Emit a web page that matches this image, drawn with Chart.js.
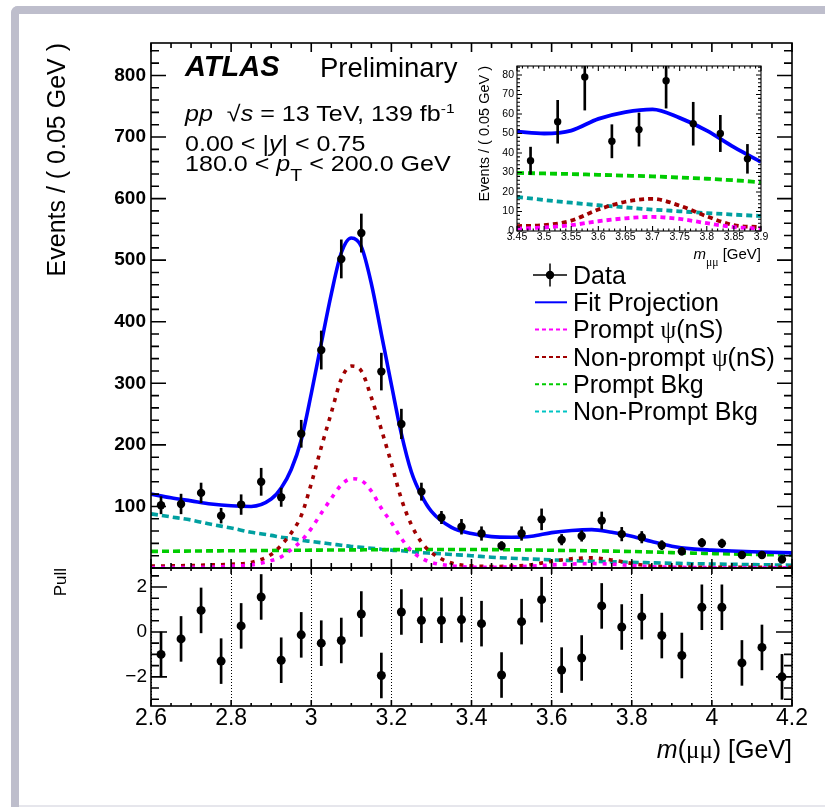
<!DOCTYPE html>
<html><head><meta charset="utf-8">
<script src="https://cdn.jsdelivr.net/npm/chart.js@4.4.0/dist/chart.umd.min.js"></script>
<style>
html,body{margin:0;padding:0;background:#fff;}
#page{position:relative;width:825px;height:807px;overflow:hidden;background:#fff;font-family:"Liberation Sans",Arial,Helvetica,sans-serif;}
#frame{position:absolute;left:11px;top:6px;width:830px;height:820px;border-left:8px solid #bebecc;border-top:8px solid #bebecc;border-top-left-radius:7px;box-sizing:border-box;}
#bottomline{position:absolute;left:19px;top:805px;width:806px;height:2px;background:#e6e6ec;}
canvas{position:absolute;left:0;top:0;}
svg{position:absolute;left:0;top:0;}
.t{position:absolute;white-space:nowrap;color:#000;line-height:1;}
.w{transform:scaleX(1.14);transform-origin:0 50%;}
.g{font-family:"Liberation Serif","DejaVu Serif",serif;}
sup{font-size:0.62em;vertical-align:0.62em;line-height:0;}
sub{font-size:0.78em;vertical-align:-0.6em;line-height:0;}
</style></head>
<body><div id="page">
<div id="frame"></div><div id="bottomline"></div>
<canvas id="main" width="825" height="807"></canvas>
<canvas id="pull" width="825" height="807"></canvas>
<canvas id="inset" width="825" height="807"></canvas>
<svg width="825" height="807" id="legsvg">
  <line x1="533" y1="275" x2="567" y2="275" stroke="#000" stroke-width="1.5"/>
  <line x1="550" y1="263.5" x2="550" y2="286.5" stroke="#000" stroke-width="1.5"/>
  <circle cx="550" cy="275" r="4.2" fill="#000"/>
  <line x1="535" y1="302.3" x2="567" y2="302.3" stroke="#0000ff" stroke-width="2"/>
  <line x1="535" y1="329.6" x2="567" y2="329.6" stroke="#ff00ff" stroke-width="2" stroke-dasharray="4 3"/>
  <line x1="535" y1="356.9" x2="567" y2="356.9" stroke="#a00000" stroke-width="2" stroke-dasharray="4 3"/>
  <line x1="535" y1="384.2" x2="567" y2="384.2" stroke="#00cc00" stroke-width="2" stroke-dasharray="4 3"/>
  <line x1="535" y1="411.5" x2="567" y2="411.5" stroke="#00c4c4" stroke-width="2" stroke-dasharray="4 3"/>
</svg>
<div class="t" style="left:185px;top:52px;font-size:29px;font-weight:bold;font-style:italic;">ATLAS</div>
<div class="t" style="left:320px;top:54px;font-size:27.5px;">Preliminary</div>
<div class="t w" style="left:185px;top:103px;font-size:22px;"><i>pp</i>&nbsp; √<i>s</i> = 13 TeV, 139 fb<sup>-1</sup></div>
<div class="t w" style="left:185px;top:133px;font-size:22px;">0.00 &lt; |<i>y</i>| &lt; 0.75</div>
<div class="t w" style="left:185px;top:153px;font-size:22px;">180.0 &lt; <i>p</i><sub>T</sub> &lt; 200.0 GeV</div>
<div class="t" style="left:573px;top:263px;font-size:25px;">Data</div>
<div class="t" style="left:573px;top:290px;font-size:25px;">Fit Projection</div>
<div class="t" style="left:573px;top:317px;font-size:25px;">Prompt <span class="g">ψ</span>(nS)</div>
<div class="t" style="left:573px;top:345px;font-size:25px;">Non-prompt <span class="g">ψ</span>(nS)</div>
<div class="t" style="left:573px;top:372px;font-size:25px;">Prompt Bkg</div>
<div class="t" style="left:573px;top:399px;font-size:25px;">Non-Prompt Bkg</div>
<div class="t" style="right:33px;top:737px;font-size:25px;"><i>m</i>(<span class="g">μμ</span>) [GeV]</div>
<div class="t" style="right:64px;top:246px;font-size:15px;"><i>m</i><sub class="g">μμ</sub> [GeV]</div>
</div>
<script>
// ---------------- data ----------------
const binCenters=[2.625,2.675,2.725,2.775,2.825,2.875,2.925,2.975,3.025,3.075,3.125,3.175,3.225,3.275,3.325,3.375,3.425,3.475,3.525,3.575,3.625,3.675,3.725,3.775,3.825,3.875,3.925,3.975,4.025,4.075,4.125,4.175];
const dataCounts=[102,104,122,85,103,140,115,218,354,502,544,319,234,124,82,67,56,36,56,79,46,52,77,55,50,37,27,41,40,21,21,14];
const dataErrors=[14,16,16,12,16,22,15,22,31,31,31,30,24,14,10,12,11,7,11,17,8.5,8.5,14,11,9.3,7.4,6,7,7,4,5,6];
const pullValues=[-1.0,-0.31,0.96,-1.30,0.27,1.56,-1.26,-0.13,-0.50,-0.38,0.80,-1.94,0.89,0.52,0.52,0.55,0.37,-1.92,0.46,1.44,-1.70,-1.16,1.16,0.22,0.68,-0.16,-1.05,1.10,1.10,-1.38,-0.69,-2.0];
const pullErrors=[1,1,1,1,1,1,1,1,1,1,1,1,1,1,1,1,1,1,1,1,1,1,1,1,1,1,1,1,1,1,1,1];
const curveX=[2.6,2.65,2.7,2.75,2.8,2.85,2.9,2.925,2.95,2.975,3.0,3.025,3.05,3.075,3.1,3.125,3.15,3.175,3.2,3.225,3.25,3.275,3.3,3.35,3.4,3.45,3.5,3.55,3.6,3.65,3.7,3.75,3.8,3.85,3.9,3.95,4.0,4.05,4.1,4.15,4.2];
const fitProjection=[120,114,109,104,101,100,112,130,160,208,283,365,445,512,536,522,462,380,298,218,156,118,92,66,56,51,50,51.5,57.5,61,62.4,58,51.5,43,35.4,31,29,27.5,26.5,25.5,24.5];
const promptPsi=[0.5,0.7,1,1.5,3,5,12,18,30,44,64,89,113,135,145,142,125,97,74,48,28,16,9,3.5,1.5,1.2,1.8,3,5,6.5,7.2,6.2,4,2,1.2,0.8,0.5,0.4,0.3,0.3,0.3];
const nonpromptPsi=[3,3.5,4,5,6,9,22,37,57,85,137,196,252,307,328,320,277,225,170,112,70,42,25,8,3.5,2.5,3,5.3,11,15,16.5,13,7.5,3,2,1.5,1,1,1,1,1];
const promptBkg=[27,27.2,27.5,27.8,28,28.2,28.5,28.6,28.7,28.8,29,29.1,29.2,29.3,29.4,29.5,29.6,29.7,29.8,29.9,30,30,30,30,30,29.8,29.5,29.2,28.8,28.4,28,27.4,26.8,26,25,24.2,23.5,22.8,22.2,21.6,21];
const nonpromptBkg=[88,83,78,71,65,58,53,50,48,45,43,41,39,37,35,33.5,32,30.5,29,28,26.5,25,24,22,20,17.5,15.9,14.5,13.2,12.1,11,10.1,9.2,8.4,7.7,7,6.5,6,5.5,5,4.5];
const mainYTicks=[100,200,300,400,500,600,700,800];
const mainYLabels=['100','200','300','400','500','600','700','800'];
const xTicks=[2.6,2.8,3.0,3.2,3.4,3.6,3.8,4.0,4.2];
const xLabels=['2.6','2.8','3','3.2','3.4','3.6','3.8','4','4.2'];
const pullYTicks=[-2,0,2];
const pullYLabels=['\u22122','0','2'];
const insetXTicks=[3.45,3.5,3.55,3.6,3.65,3.7,3.75,3.8,3.85,3.9];
const insetXLabels=['3.45','3.5','3.55','3.6','3.65','3.7','3.75','3.8','3.85','3.9'];
const insetYTicks=[0,10,20,30,40,50,60,70,80];
const insetYLabels=['0','10','20','30','40','50','60','70','80'];

// ---------------- helpers ----------------
const FONT='"Liberation Sans", Arial, Helvetica, sans-serif';
Chart.defaults.font.family=FONT;
Chart.defaults.color='#000';
const pts=(xs,ys)=>xs.map((x,i)=>({x:x,y:ys[i]}));
const errBars=(xs,ys,es)=>xs.map((x,i)=>({x:x,y:[ys[i]-es[i],ys[i]+es[i]]}));
const seq=(a,b,s)=>{const r=[];const n=Math.round((b-a)/s);for(let k=0;k<=n;k++)r.push(+(a+k*s).toFixed(6));return r;};
const inRange=(lo,hi)=>(p)=>p.x>=lo-1e-9&&p.x<=hi+1e-9;
const lab=(vals,labels)=>(v)=>{const i=vals.findIndex(t=>Math.abs(t-v)<1e-9);return i<0?'':labels[i];};

function curveSet(label,ys,color,dash,width,filter){
  let d=pts(curveX,ys); if(filter) d=d.filter(filter);
  return {type:'line',label:label,data:d,borderColor:color,backgroundColor:color,borderWidth:width,borderDash:dash,
    pointRadius:0,fill:false,cubicInterpolationMode:'monotone'};
}
function framePlugin(cfg){
  return {id:'frame_'+cfg.name,afterDatasetsDraw(chart){
    const ctx=chart.ctx,a=chart.chartArea,xs=chart.scales.x,ys=chart.scales.y;
    ctx.save();ctx.strokeStyle='#000';ctx.lineWidth=cfg.lw;
    ctx.beginPath();
    const tx=(vals,len)=>vals.forEach(v=>{const p=xs.getPixelForValue(v);
      if(p<a.left-0.5||p>a.right+0.5)return;
      ctx.moveTo(p,a.bottom);ctx.lineTo(p,a.bottom-len);ctx.moveTo(p,a.top);ctx.lineTo(p,a.top+len);});
    const ty=(vals,len)=>vals.forEach(v=>{const p=ys.getPixelForValue(v);
      if(p<a.top-0.5||p>a.bottom+0.5)return;
      ctx.moveTo(a.left,p);ctx.lineTo(a.left+len,p);ctx.moveTo(a.right,p);ctx.lineTo(a.right-len,p);});
    tx(cfg.xMinor,cfg.xMinLen);tx(cfg.xMajor,cfg.xMajLen);
    ty(cfg.yMinor,cfg.yMinLen);ty(cfg.yMajor,cfg.yMajLen);
    ctx.stroke();
    ctx.strokeRect(a.left,a.top,a.right-a.left,a.bottom-a.top);
    ctx.restore();
  }};
}
const baseOpts={responsive:false,animation:false,events:[],plugins:{legend:{display:false},tooltip:{enabled:false}}};

// ---------------- main panel ----------------
new Chart(document.getElementById('main'),{
  type:'line',
  data:{datasets:[
    {type:'line',label:'Data',data:pts(binCenters,dataCounts),showLine:false,pointRadius:4.2,pointBorderWidth:0,pointBackgroundColor:'#000',borderColor:'#000'},
    {type:'bar',label:'Data uncertainty',data:errBars(binCenters,dataCounts,dataErrors),backgroundColor:'#000',barThickness:2,grouped:false},
    curveSet('Fit Projection',fitProjection,'#0000ff',[],3.6),
    curveSet('Prompt \u03c8(nS)',promptPsi,'#ff00ff',[4,6],3.6),
    curveSet('Non-prompt \u03c8(nS)',nonpromptPsi,'#a00000',[4,6],3.6),
    curveSet('Prompt Bkg',promptBkg,'#00cc00',[7,4],3.6),
    curveSet('Non-Prompt Bkg',nonpromptBkg,'#00a0a0',[7,4],3.6)
  ]},
  options:Object.assign({},baseOpts,{
    layout:{padding:{left:0,top:43,right:33,bottom:239}},
    scales:{
      x:{type:'linear',min:2.6,max:4.2,display:false,offset:false,grid:{offset:false}},
      y:{type:'linear',min:0,max:852.7,
        afterFit(s){s.width=151;},
        afterBuildTicks(s){s.ticks=mainYTicks.map(v=>({value:v}));},
        grid:{display:false,drawTicks:false},border:{display:false},
        ticks:{padding:5,color:'#000',font:{size:19,weight:'bold'},callback:lab(mainYTicks,mainYLabels)},
        title:{display:true,text:'Events / ( 0.05 GeV )',align:'end',color:'#000',font:{size:25},padding:{top:43,bottom:0}}}
    }
  }),
  plugins:[framePlugin({name:'main',lw:1.6,xMajor:seq(2.6,4.2,0.2),xMinor:seq(2.6,4.2,0.05),xMajLen:9,xMinLen:5,
    yMajor:seq(0,800,100),yMinor:seq(0,840,20),yMajLen:15,yMinLen:8})]
});

// ---------------- pull panel ----------------
new Chart(document.getElementById('pull'),{
  type:'line',
  data:{datasets:[
    {type:'line',label:'Pull',data:pts(binCenters,pullValues),showLine:false,pointRadius:4.5,pointBorderWidth:0,pointBackgroundColor:'#000',borderColor:'#000'},
    {type:'bar',label:'Pull uncertainty',data:errBars(binCenters,pullValues,pullErrors),backgroundColor:'#000',barThickness:2,grouped:false}
  ]},
  options:Object.assign({},baseOpts,{
    layout:{padding:{left:0,top:568,right:33,bottom:0}},
    scales:{
      x:{type:'linear',min:2.6,max:4.2,offset:false,
        afterFit(s){s.height=101;},
        afterBuildTicks(s){s.ticks=xTicks.map(v=>({value:v}));},
        grid:{display:true,offset:false,color:'#000',lineWidth:1,drawTicks:false},border:{display:false,dash:[1,2]},
        ticks:{autoSkip:false,maxRotation:0,padding:-1,color:'#000',font:{size:23},callback:lab(xTicks,xLabels)}},
      y:{type:'linear',min:-3.3,max:2.85,
        afterFit(s){s.width=151;},
        afterBuildTicks(s){s.ticks=pullYTicks.map(v=>({value:v}));},
        grid:{display:false,drawTicks:false},border:{display:false},
        ticks:{padding:4,color:'#000',font:{size:19},callback:lab(pullYTicks,pullYLabels)},
        title:{display:true,text:'Pull',align:'end',color:'#000',font:{size:17},padding:{top:51,bottom:0}}}
    }
  }),
  plugins:[framePlugin({name:'pull',lw:1.6,xMajor:seq(2.6,4.2,0.2),xMinor:seq(2.6,4.2,0.05),xMajLen:6,xMinLen:3,
    yMajor:seq(-2,2,2),yMinor:seq(-3,2.5,0.5),yMajLen:16,yMinLen:8})]
});

// ---------------- inset ----------------
const fin=inRange(3.45,3.9);
new Chart(document.getElementById('inset'),{
  type:'line',
  data:{datasets:[
    {type:'line',label:'Data',data:pts(binCenters,dataCounts).filter(fin),showLine:false,pointRadius:3.7,pointBorderWidth:0,pointBackgroundColor:'#000',borderColor:'#000'},
    {type:'bar',label:'Data uncertainty',data:errBars(binCenters,dataCounts,dataErrors).filter(fin),backgroundColor:'#000',barThickness:2,grouped:false},
    curveSet('Fit Projection',fitProjection,'#0000ff',[],3.8,fin),
    curveSet('Prompt \u03c8(nS)',promptPsi,'#ff00ff',[5,4],3.8,fin),
    curveSet('Non-prompt \u03c8(nS)',nonpromptPsi,'#a00000',[5,4],3.8,fin),
    curveSet('Prompt Bkg',promptBkg,'#00cc00',[7,4],3.8,fin),
    curveSet('Non-Prompt Bkg',nonpromptBkg,'#00a0a0',[6,4],3.8,fin)
  ]},
  options:Object.assign({},baseOpts,{
    layout:{padding:{left:470,top:66,right:64,bottom:546}},
    scales:{
      x:{type:'linear',min:3.45,max:3.9,offset:false,
        afterFit(s){s.height=30;},
        afterBuildTicks(s){s.ticks=insetXTicks.map(v=>({value:v}));},
        grid:{display:false,offset:false,drawTicks:false},border:{display:false},
        ticks:{autoSkip:false,maxRotation:0,padding:0,color:'#000',font:{size:10.5},callback:lab(insetXTicks,insetXLabels)}},
      y:{type:'linear',min:0,max:84.6,
        afterFit(s){s.width=47;},
        afterBuildTicks(s){s.ticks=insetYTicks.map(v=>({value:v}));},
        grid:{display:false,drawTicks:false},border:{display:false},
        ticks:{padding:3,color:'#000',font:{size:10.5},callback:lab(insetYTicks,insetYLabels)},
        title:{display:true,text:'Events / ( 0.05 GeV )',align:'end',color:'#000',font:{size:14.5},padding:{top:6,bottom:0}}}
    }
  }),
  plugins:[framePlugin({name:'inset',lw:1.1,xMajor:seq(3.45,3.9,0.05),xMinor:seq(3.45,3.9,0.01),xMajLen:5,xMinLen:2.5,
    yMajor:seq(0,80,10),yMinor:seq(0,84,2),yMajLen:5,yMinLen:3})]
});
</script>
</body></html>
